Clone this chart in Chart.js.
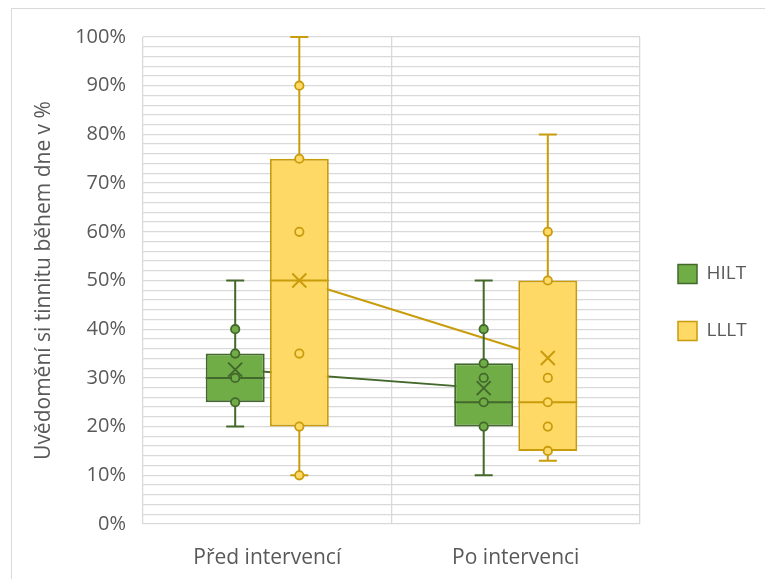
<!DOCTYPE html>
<html lang="cs">
<head>
<meta charset="utf-8">
<title>Uvědomění si tinnitu během dne</title>
<script src="https://cdn.jsdelivr.net/npm/chart.js@4.4.1/dist/chart.umd.min.js"></script>
<style>
  html, body { margin: 0; padding: 0; background: #ffffff; }
  #frame {
    position: absolute; left: 11px; top: 8px; width: 800px; height: 600px;
    border-top: 1px solid #d9d9d9; border-left: 1px solid #d9d9d9;
  }
  #wrap { position: absolute; left: 0; top: 0; width: 765px; height: 579px; }
</style>
</head>
<body>
<div id="frame"></div>
<div id="wrap"><canvas id="chart" width="765" height="579"></canvas></div>
<script>
// Categories and y-axis tick values
const categories = ['Před intervencí', 'Po intervenci'];
const yTickValues = [0, 10, 20, 30, 40, 50, 60, 70, 80, 90, 100];

// HILT group: five-number summary, mean and individual observations (in %)
const hiltMin    = [20, 10];
const hiltQ1     = [25, 20];
const hiltMedian = [30, 25];
const hiltQ3     = [35, 33];
const hiltMax    = [50, 50];
const hiltMean   = [31.7, 27.9];
const hiltPoints = [[40, 35, 30, 25], [40, 33, 30, 25, 20]];

// LLLT group
const llltMin    = [10, 13];
const llltQ1     = [20, 15];
const llltMedian = [50, 25];
const llltQ3     = [75, 50];
const llltMax    = [100, 80];
const llltMean   = [50, 34.1];
const llltPoints = [[90, 75, 60, 35, 20, 10], [60, 50, 30, 25, 20, 15]];

const TEXT = '#595959';
const GRID = '#d9d9d9';
const FONT = "'Open Sans', 'Noto Sans', sans-serif";

const groups = [
  { label: 'HILT', fill: '#70AD47', stroke: '#43682B',
    min: hiltMin, q1: hiltQ1, median: hiltMedian, q3: hiltQ3, max: hiltMax, mean: hiltMean, points: hiltPoints },
  { label: 'LLLT', fill: '#FFD966', stroke: '#C99C0C',
    min: llltMin, q1: llltQ1, median: llltMedian, q3: llltQ3, max: llltMax, mean: llltMean, points: llltPoints }
];

// Whiskers, medians, observations and mean markers drawn on top of the boxes
const boxPlotMarks = {
  id: 'boxPlotMarks',
  beforeDatasetsDraw(chart) {
    // lines joining the means of each group (behind the boxes)
    const ctx = chart.ctx, y = chart.scales.y;
    ctx.save();
    groups.forEach((g, di) => {
      const bars = chart.getDatasetMeta(di).data;
      ctx.strokeStyle = g.stroke;
      ctx.lineWidth = 2;
      ctx.beginPath();
      bars.forEach((bar, i) => {
        const py = y.getPixelForValue(g.mean[i]);
        if (i === 0) ctx.moveTo(bar.x, py); else ctx.lineTo(bar.x, py);
      });
      ctx.stroke();
    });
    ctx.restore();
  },
  afterDatasetsDraw(chart) {
    const ctx = chart.ctx, y = chart.scales.y;
    ctx.save();
    groups.forEach((g, di) => {
      const bars = chart.getDatasetMeta(di).data;
      bars.forEach((bar, i) => {
        const cx = bar.x;
        const half = bar.width / 2;
        const capHalf = 9;
        const pMin = y.getPixelForValue(g.min[i]);
        const pQ1 = y.getPixelForValue(g.q1[i]);
        const pMed = y.getPixelForValue(g.median[i]);
        const pQ3 = y.getPixelForValue(g.q3[i]);
        const pMax = y.getPixelForValue(g.max[i]);
        const pMean = y.getPixelForValue(g.mean[i]);
        ctx.strokeStyle = g.stroke;
        ctx.lineWidth = 2;
        ctx.beginPath();
        // whiskers
        ctx.moveTo(cx, pQ3); ctx.lineTo(cx, pMax);
        ctx.moveTo(cx, pQ1); ctx.lineTo(cx, pMin);
        // caps
        ctx.moveTo(cx - capHalf, pMax); ctx.lineTo(cx + capHalf, pMax);
        ctx.moveTo(cx - capHalf, pMin); ctx.lineTo(cx + capHalf, pMin);
        // median
        ctx.moveTo(cx - half, pMed); ctx.lineTo(cx + half, pMed);
        ctx.stroke();
        // individual observations
        ctx.fillStyle = g.fill;
        ctx.lineWidth = 1.8;
        g.points[i].forEach(v => {
          const py = y.getPixelForValue(v);
          ctx.beginPath();
          ctx.arc(cx, py, 4.2, 0, Math.PI * 2);
          ctx.fill();
          ctx.stroke();
        });
        // mean marker
        const m = 7;
        ctx.lineWidth = 2;
        ctx.beginPath();
        ctx.moveTo(cx - m, pMean - m); ctx.lineTo(cx + m, pMean + m);
        ctx.moveTo(cx - m, pMean + m); ctx.lineTo(cx + m, pMean - m);
        ctx.stroke();
      });
    });
    ctx.restore();
  }
};

new Chart(document.getElementById('chart'), {
  type: 'bar',
  data: {
    labels: categories,
    datasets: groups.map(g => ({
      label: g.label,
      data: g.q1.map((v, i) => [v, g.q3[i]]),
      backgroundColor: g.fill,
      borderColor: g.stroke,
      borderWidth: 2,
      borderSkipped: false,
      categoryPercentage: 0.516,
      barPercentage: 0.92
    }))
  },
  options: {
    responsive: false,
    animation: false,
    layout: { padding: { left: 31, top: 37, right: 10, bottom: 11 } },
    plugins: {
      tooltip: { enabled: false },
      legend: {
        position: 'right',
        maxWidth: 115,
        labels: {
          boxWidth: 19,
          boxHeight: 19,
          padding: 38,
          color: TEXT,
          font: { family: FONT, size: 19 },
          generateLabels(chart) {
            return groups.map((g, i) => ({
              text: g.label,
              fillStyle: g.fill,
              strokeStyle: g.stroke,
              lineWidth: 1.5,
              fontColor: TEXT,
              datasetIndex: i,
              hidden: false
            }));
          }
        }
      }
    },
    scales: {
      x: {
        grid: { color: GRID, lineWidth: 1.3, offset: true, drawTicks: false },
        border: { display: false },
        ticks: { color: TEXT, font: { family: FONT, size: 21 }, padding: 21 },
        afterFit(scale) { scale.height = 44; }
      },
      y: {
        min: 0,
        max: 100,
        grid: { color: GRID, lineWidth: 1.3, drawTicks: false },
        border: { display: false },
        ticks: {
          stepSize: 2,
          autoSkip: false,
          padding: 17,
          color: TEXT,
          font: { family: FONT, size: 20 },
          callback: v => (yTickValues.includes(v) ? v + '%' : '')
        },
        title: {
          display: true,
          text: 'Uvědomění si tinnitu během dne v %',
          color: TEXT,
          font: { family: FONT, size: 21 },
          padding: 0
        },
        afterFit(scale) { scale.width = 112; }
      }
    }
  },
  plugins: [boxPlotMarks]
});
</script>
</body>
</html>
